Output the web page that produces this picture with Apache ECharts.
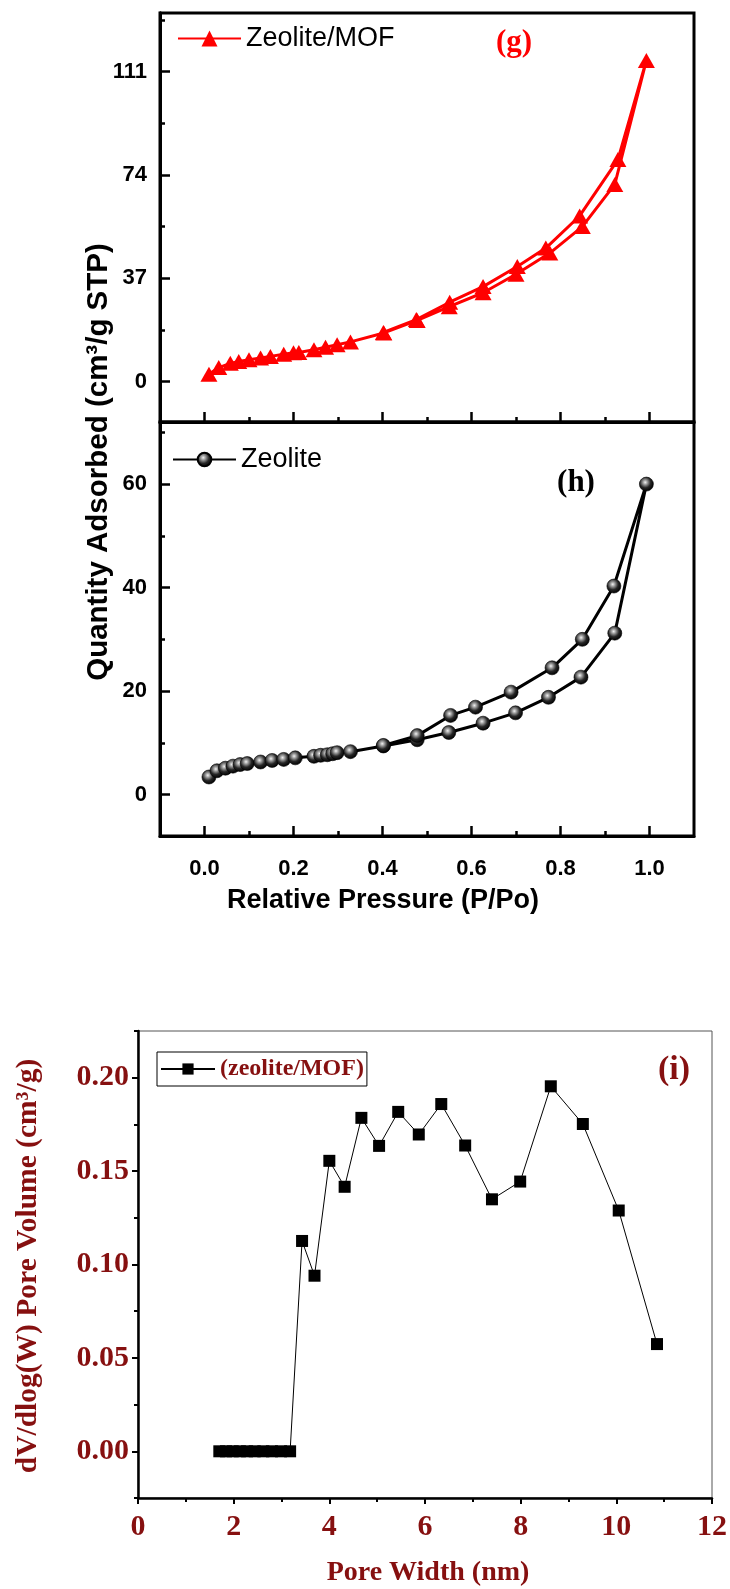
<!DOCTYPE html>
<html>
<head>
<meta charset="utf-8">
<script src="https://cdn.jsdelivr.net/npm/echarts@6/dist/echarts.min.js"></script>
<style>
  html, body { margin: 0; padding: 0; background: #fff; }
  #chart { width: 730px; height: 1589px; }
</style>
</head>
<body>
<div id="chart"></div>
<script>
// (g) Zeolite/MOF N2 isotherm: adsorption branch, then desorption branch
const mofAdsP = [0.010, 0.032, 0.058, 0.077, 0.100, 0.126, 0.148, 0.178, 0.200, 0.212, 0.246, 0.272, 0.298, 0.328, 0.403, 0.478, 0.550, 0.626, 0.700, 0.776, 0.849, 0.922, 0.993];
const mofAdsQ = [2.6, 5.0, 6.5, 7.2, 7.8, 8.4, 9.0, 9.8, 10.3, 10.4, 11.4, 12.3, 13.2, 14.2, 17.4, 21.9, 26.8, 31.8, 38.4, 46.0, 55.5, 70.6, 115.0];
const mofDesP = [0.929, 0.843, 0.767, 0.703, 0.626, 0.551, 0.476, 0.402];
const mofDesQ = [79.5, 59.3, 47.8, 41.2, 34.0, 28.4, 22.2, 17.6];

// (h) Zeolite N2 isotherm
const zeoAdsP = [0.010, 0.028, 0.047, 0.064, 0.080, 0.096, 0.126, 0.152, 0.178, 0.204, 0.246, 0.261, 0.276, 0.288, 0.298, 0.328, 0.402, 0.478, 0.549, 0.626, 0.699, 0.773, 0.846, 0.922, 0.993];
const zeoAdsQ = [3.4, 4.6, 5.1, 5.5, 5.8, 6.0, 6.3, 6.6, 6.8, 7.1, 7.4, 7.6, 7.7, 7.9, 8.1, 8.3, 9.4, 10.6, 12.0, 13.8, 15.8, 18.8, 22.7, 31.2, 60.0];
const zeoDesP = [0.920, 0.849, 0.781, 0.689, 0.609, 0.553, 0.478, 0.402];
const zeoDesQ = [40.3, 30.0, 24.5, 19.8, 16.9, 15.3, 11.4, 9.5];

// (i) BJH pore size distribution of zeolite/MOF
const poreWidth  = [1.70, 1.84, 1.98, 2.13, 2.28, 2.44, 2.62, 2.80, 2.99, 3.18, 3.43, 3.69, 4.00, 4.32, 4.67, 5.04, 5.44, 5.87, 6.34, 6.84, 7.40, 7.99, 8.63, 9.30, 10.05, 10.85];
const poreVolume = [0, 0, 0, 0, 0, 0, 0, 0, 0, 0, 0.1126, 0.0940, 0.1555, 0.1416, 0.1785, 0.1635, 0.1817, 0.1696, 0.1859, 0.1637, 0.1349, 0.1444, 0.1954, 0.1752, 0.1289, 0.0574];

// Tick positions
const pressureTicks = [0, 0.2, 0.4, 0.6, 0.8, 1.0];
const pressureMinorTicks = [0.1, 0.3, 0.5, 0.7, 0.9];
const mofQtyTicks = [0, 37, 74, 111];
const mofQtyMinorTicks = [18.5, 55.5, 92.5, 129.5];
const zeoQtyTicks = [0, 20, 40, 60];
const zeoQtyMinorTicks = [10, 30, 50, 70];
const volumeTicks = [0, 0.05, 0.10, 0.15, 0.20];
const volumeMinorTicks = [-0.025, 0.025, 0.075, 0.125, 0.175, 0.225];

const SANS = "'Liberation Sans', Arial, sans-serif";
const SERIF = "'Liberation Serif', 'Times New Roman', serif";
const MAROON = '#861010';

const pairs = (xs, ys) => xs.map((x, i) => [x, ys[i]]);

// helpers for the isotherm frames (ticks pointing inward)
function isoX(grid, ticks, len, withLabels) {
  return {
    type: 'value', gridIndex: grid, position: 'bottom', min: -0.1, max: 1.1,
    axisLine: { show: withLabels !== null, onZero: false, lineStyle: { color: '#000', width: 3 } },
    axisTick: { show: true, inside: true, length: len, customValues: ticks, lineStyle: { color: '#000', width: 2.5 } },
    axisLabel: withLabels ? {
      show: true, customValues: ticks, margin: 22,
      formatter: v => v.toFixed(1),
      fontFamily: SANS, fontWeight: 'bold', fontSize: 22, color: '#000'
    } : { show: false },
    splitLine: { show: false }
  };
}
function isoY(grid, min, max, ticks, len, withLabels) {
  return {
    type: 'value', gridIndex: grid, position: 'left', min: min, max: max,
    axisLine: { show: true, onZero: false, lineStyle: { color: '#000', width: 3 } },
    axisTick: { show: true, inside: true, length: len, customValues: ticks, lineStyle: { color: '#000', width: 2.5 } },
    axisLabel: withLabels ? {
      show: true, customValues: ticks, margin: 13,
      fontFamily: SANS, fontWeight: 'bold', fontSize: 22, color: '#000'
    } : { show: false },
    splitLine: { show: false }
  };
}

const sphere = new echarts.graphic.RadialGradient(0.42, 0.38, 0.62, [
  { offset: 0, color: '#f2f2f2' },
  { offset: 0.25, color: '#9a9a9a' },
  { offset: 0.6, color: '#262626' },
  { offset: 1, color: '#000' }
]);

const option = {
  animation: false,
  backgroundColor: '#fff',
  grid: [
    { left: 160, top: 13, width: 534, height: 409, show: true, borderColor: '#000', borderWidth: 3 },
    { left: 160, top: 422, width: 534, height: 414, show: true, borderColor: '#000', borderWidth: 3 },
    { left: 138, top: 1031, width: 579, height: 467, show: true, borderColor: '#555', borderWidth: 1 }
  ],
  xAxis: [
    isoX(0, pressureTicks, 10, false),
    isoX(0, pressureMinorTicks, 5, null),
    isoX(1, pressureTicks, 10, true),
    isoX(1, pressureMinorTicks, 5, null),
    {
      type: 'value', gridIndex: 2, position: 'bottom', min: 0, max: 12, interval: 2,
      axisLine: { show: true, onZero: false, lineStyle: { color: '#000', width: 2.5 } },
      axisTick: { show: true, inside: false, length: 6, lineStyle: { color: '#000', width: 2 } },
      minorTick: { show: true, splitNumber: 2, length: 4, lineStyle: { color: '#000', width: 2 } },
      axisLabel: { show: true, margin: 14, fontFamily: SERIF, fontWeight: 'bold', fontSize: 30, color: MAROON },
      splitLine: { show: false }
    }
  ],
  yAxis: [
    isoY(0, -14.5, 132, mofQtyTicks, 10, true),
    isoY(0, -14.5, 132, mofQtyMinorTicks, 5, false),
    isoY(1, -8, 72, zeoQtyTicks, 10, true),
    isoY(1, -8, 72, zeoQtyMinorTicks, 5, false),
    {
      type: 'value', gridIndex: 2, position: 'left', min: -0.025, max: 0.225,
      axisLine: { show: true, onZero: false, lineStyle: { color: '#000', width: 2.5 } },
      axisTick: { show: true, inside: false, length: 6, customValues: volumeTicks, lineStyle: { color: '#000', width: 2 } },
      axisLabel: {
        show: true, customValues: volumeTicks, margin: 9, formatter: v => v.toFixed(2),
        fontFamily: SERIF, fontWeight: 'bold', fontSize: 30, color: MAROON
      },
      splitLine: { show: false }
    },
    {
      type: 'value', gridIndex: 2, position: 'left', min: -0.025, max: 0.225,
      axisLine: { show: false, onZero: false },
      axisTick: { show: true, inside: false, length: 4, customValues: volumeMinorTicks, lineStyle: { color: '#000', width: 2 } },
      axisLabel: { show: false },
      splitLine: { show: false }
    }
  ],
  legend: [
    {
      data: ['Zeolite/MOF'], left: 177, top: 25, padding: 0, selectedMode: false,
      itemWidth: 63, itemHeight: 20,
      textStyle: { fontFamily: SANS, fontSize: 27, color: '#000' }
    },
    {
      data: ['Zeolite'], left: 172, top: 446, padding: 0, selectedMode: false,
      itemWidth: 63, itemHeight: 17,
      textStyle: { fontFamily: SANS, fontSize: 27, color: '#000' }
    },
    {
      data: ['(zeolite/MOF)'], left: 157, top: 1052, padding: [5, 3, 5, 3], selectedMode: false,
      borderColor: '#000', borderWidth: 1,
      itemWidth: 54, itemHeight: 14,
      textStyle: { fontFamily: SERIF, fontWeight: 'bold', fontSize: 24, color: MAROON }
    }
  ],
  series: [
    {
      name: 'Zeolite/MOF', type: 'line', xAxisIndex: 0, yAxisIndex: 0,
      data: pairs(mofAdsP, mofAdsQ).concat(pairs(mofDesP, mofDesQ)),
      symbol: 'triangle', symbolSize: [17, 15],
      itemStyle: { color: '#ff0000' },
      lineStyle: { color: '#ff0000', width: 3 }
    },
    {
      name: 'Zeolite', type: 'line', xAxisIndex: 2, yAxisIndex: 2,
      data: pairs(zeoAdsP, zeoAdsQ).concat(pairs(zeoDesP, zeoDesQ)),
      symbol: 'circle', symbolSize: 14,
      itemStyle: { color: sphere, borderColor: '#000', borderWidth: 0.6 },
      lineStyle: { color: '#000', width: 3 }
    },
    {
      name: '(zeolite/MOF)', type: 'line', xAxisIndex: 4, yAxisIndex: 4,
      data: pairs(poreWidth, poreVolume),
      symbol: 'rect', symbolSize: 12,
      itemStyle: { color: '#000' },
      lineStyle: { color: '#000', width: 1 }
    }
  ],
  graphic: [
    { type: 'text', x: 514, y: 43, style: { text: '(g)', font: "bold 31px " + SERIF, fill: '#ff0000', align: 'center', verticalAlign: 'middle' } },
    { type: 'text', x: 576, y: 483, style: { text: '(h)', font: "bold 31px " + SERIF, fill: '#000', align: 'center', verticalAlign: 'middle' } },
    { type: 'text', x: 674, y: 1070, style: { text: '(i)', font: "bold 34px " + SERIF, fill: MAROON, align: 'center', verticalAlign: 'middle' } },
    { type: 'text', x: 99, y: 462, rotation: Math.PI / 2, style: { text: 'Quantity Adsorbed (cm³/g STP)', font: "bold 29.5px " + SANS, fill: '#000', align: 'center', verticalAlign: 'middle' } },
    { type: 'text', x: 383, y: 901, style: { text: 'Relative Pressure (P/Po)', font: "bold 27px " + SANS, fill: '#000', align: 'center', verticalAlign: 'middle' } },
    { type: 'text', x: 28, y: 1266, rotation: Math.PI / 2, style: { text: 'dV/dlog(W) Pore Volume (cm³/g)', font: "bold 29.5px " + SERIF, fill: MAROON, align: 'center', verticalAlign: 'middle' } },
    { type: 'text', x: 428, y: 1573, style: { text: 'Pore Width (nm)', font: "bold 28px " + SERIF, fill: MAROON, align: 'center', verticalAlign: 'middle' } }
  ]
};

const chart = echarts.init(document.getElementById('chart'), null, { renderer: 'canvas' });
chart.setOption(option);
</script>
</body>
</html>
